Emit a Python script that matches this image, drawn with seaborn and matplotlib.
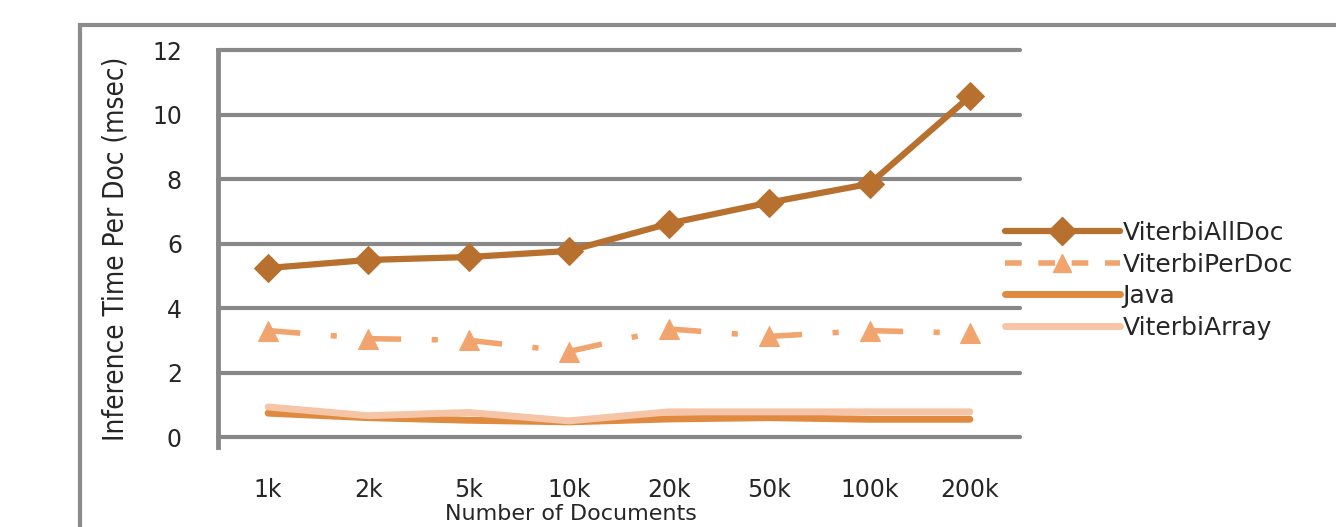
import matplotlib
matplotlib.use("Agg")
import matplotlib.pyplot as plt
import seaborn as sns
import pandas as pd
from matplotlib.lines import Line2D
from matplotlib.patches import Rectangle

categories = ["1k", "2k", "5k", "10k", "20k", "50k", "100k", "200k"]
viterbi_all_doc = [5.24, 5.49, 5.58, 5.77, 6.62, 7.27, 7.85, 10.56]
viterbi_per_doc = [3.30, 3.05, 3.00, 2.65, 3.35, 3.12, 3.30, 3.22]
java = [0.74, 0.60, 0.52, 0.47, 0.56, 0.60, 0.55, 0.55]
viterbi_array = [0.93, 0.66, 0.76, 0.50, 0.78, 0.78, 0.78, 0.78]
series_names = ["ViterbiAllDoc", "ViterbiPerDoc", "Java", "ViterbiArray"]
y_ticks = [0, 2, 4, 6, 8, 10, 12]

c_all = "#B8702F"
c_per = "#F2A46E"
c_java = "#DF8A3F"
c_arr = "#F6C4A6"

sns.set_style("white")
plt.rcParams["font.family"] = ["DejaVu Sans"]

fig = plt.figure(figsize=(13.36, 5.27), dpi=100)
ax = fig.add_axes([218/1336, 80/527, (1020-218)/1336, (447-50)/527])

x_pos = list(range(len(categories)))
df = pd.DataFrame({"x": x_pos, "all": viterbi_all_doc, "per": viterbi_per_doc,
                   "java": java, "arr": viterbi_array})

sns.lineplot(data=df, x="x", y="java", ax=ax, color=c_java, linewidth=5, zorder=3)
sns.lineplot(data=df, x="x", y="arr", ax=ax, color=c_arr, linewidth=5, zorder=4)
sns.lineplot(data=df, x="x", y="per", ax=ax, color=c_per, linewidth=4,
             linestyle=(0, (5.8, 5.5, 1.1, 5.8)), marker="^", markersize=15,
             markeredgecolor=c_per, zorder=5)
sns.lineplot(data=df, x="x", y="all", ax=ax, color=c_all, linewidth=4.5,
             marker="D", markersize=14, markeredgecolor=c_all, zorder=6)

ax.set_xlim(-0.5, 7.5)
ax.set_ylim(-0.31, 12)
ax.set_yticks(y_ticks)
ax.set_yticklabels([str(t) for t in y_ticks], fontsize=17, family=["DejaVu Sans"])
ax.set_xticks(x_pos)
ax.set_xticklabels(categories, fontsize=17, family=["DejaVu Sans"])
ax.tick_params(axis="x", length=0, pad=22)
ax.tick_params(axis="y", length=10, width=3, color="#888888", pad=16, direction="out")
ax.grid(axis="y", color="#888888", linewidth=3, zorder=1)
for gl in ax.get_ygridlines():
    gl.set_clip_on(False)
ax.set_axisbelow(True)
for s in ["top", "right", "bottom"]:
    ax.spines[s].set_visible(False)
ax.spines["left"].set_color("#888888")
ax.spines["left"].set_linewidth(3.5)

ax.set_xlabel("Number of Documents", fontsize=16, family=["DejaVu Sans"])
ax.xaxis.set_label_coords((571-218)/802, -(514-447)/397)
ax.xaxis.label.set_va("center")
ax.set_ylabel("Inference Time Per Doc (msec)", fontsize=20,
              family=["DejaVu Sans"], fontstretch="condensed")
ax.yaxis.set_label_coords(-(218-130)/802, 0.5)

handles = [
    Line2D([], [], color=c_all, linewidth=4.5, marker="D", markersize=14),
    Line2D([], [], color=c_per, linewidth=4, linestyle=(0, (3, 3)), marker="^", markersize=13),
    Line2D([], [], color=c_java, linewidth=5),
    Line2D([], [], color=c_arr, linewidth=5),
]
leg = fig.legend(handles, series_names, loc="upper left",
                 bbox_to_anchor=(995/1336, 1 - 211/527), frameon=False,
                 fontsize=18, handlelength=4.6, labelspacing=0.3, handletextpad=0.1,
                 borderaxespad=0)

fig.patches.append(Rectangle((80/1336, -0.1), 1.2, (527-25)/527 + 0.1,
                             transform=fig.transFigure, fill=False,
                             edgecolor="#8c8c8c", linewidth=3))

fig.savefig("out.png", dpi=100)
